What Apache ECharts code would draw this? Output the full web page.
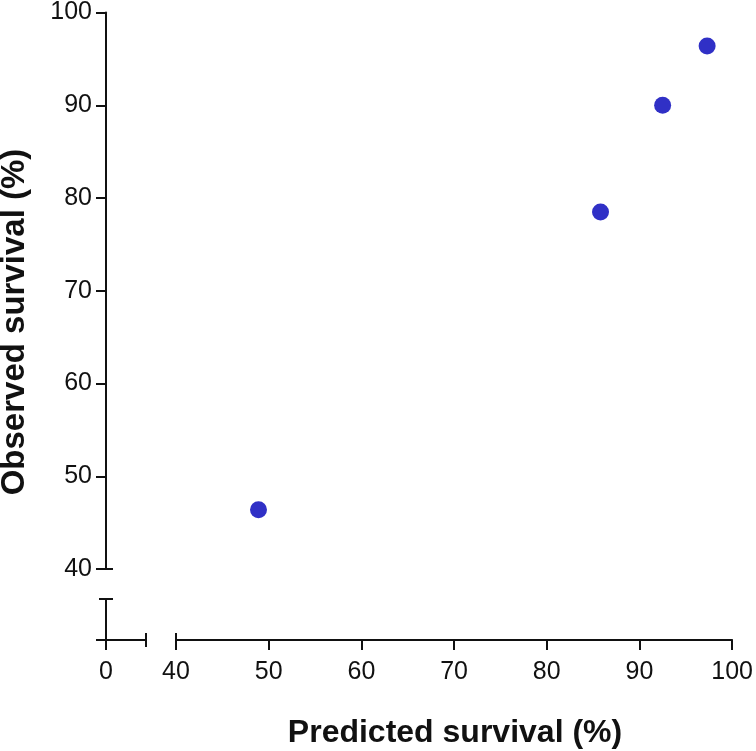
<!DOCTYPE html>
<html>
<head>
<meta charset="utf-8">
<script src="https://cdn.jsdelivr.net/npm/echarts@6/dist/echarts.min.js"></script>
<style>
  html, body { margin: 0; padding: 0; background: #fff; }
  #chart { width: 756px; height: 751px; }
</style>
</head>
<body>
<div id="chart"></div>
<script>
// ---- Data ----
const predicted = [48.9, 85.8, 92.5, 97.3];   // Predicted survival (%)
const observed  = [46.4, 78.5, 90.0, 96.4];   // Observed survival (%)
const xTicksMain = [40, 50, 60, 70, 80, 90, 100];
const yTicksMain = [40, 50, 60, 70, 80, 90, 100];
const xTicksLow = [0];
const yTicksLow = [0];
const xTitle = 'Predicted survival (%)';
const yTitle = 'Observed survival (%)';

// ---- Styling ----
const INK = '#111';
const FONT = '"Liberation Sans", Arial, sans-serif';
const TICKFONT = '"Liberation Sans", Arial, sans-serif';
const lineStyle = { color: INK, width: 2 };
const loXMax = 4.3, loYMax = 4.4;

const chart = echarts.init(document.getElementById('chart'), null, { renderer: 'canvas' });

const option = {
  animation: false,
  backgroundColor: '#fff',
  grid: [
    { left: 176, right: 22, top: 11, bottom: 182 },
    { left: 106, width: 40, top: 599, bottom: 111 }
  ],
  xAxis: [
    {
      gridIndex: 0, type: 'value', min: xTicksMain[0], max: xTicksMain[xTicksMain.length - 1], interval: 10,
      position: 'bottom', offset: 71,
      axisLine: { show: true, onZero: false, lineStyle },
      axisTick: { show: true, length: 10, lineStyle },
      axisLabel: { margin: 20, fontSize: 25, color: INK, fontFamily: TICKFONT },
      splitLine: { show: false }
    },
    {
      gridIndex: 1, type: 'value', min: 0, max: loXMax,
      position: 'bottom',
      axisLine: { show: true, onZero: false, lineStyle },
      axisTick: { show: true, length: 10, lineStyle, customValues: xTicksLow },
      axisLabel: { margin: 20, fontSize: 25, color: INK, fontFamily: TICKFONT, customValues: xTicksLow },
      splitLine: { show: false }
    }
  ],
  yAxis: [
    {
      gridIndex: 0, type: 'value', min: yTicksMain[0], max: yTicksMain[yTicksMain.length - 1], interval: 10,
      position: 'left', offset: 70,
      axisLine: { show: true, onZero: false, lineStyle },
      axisTick: { show: true, length: 10, lineStyle },
      axisLabel: { margin: 14, fontSize: 25, color: INK, fontFamily: TICKFONT },
      splitLine: { show: false }
    },
    {
      gridIndex: 1, type: 'value', min: 0, max: loYMax,
      position: 'left',
      axisLine: { show: true, onZero: false, lineStyle },
      axisTick: { show: true, length: 10, lineStyle, customValues: yTicksLow },
      axisLabel: { show: false },
      splitLine: { show: false }
    }
  ],
  series: [
    {
      type: 'scatter',
      xAxisIndex: 0, yAxisIndex: 0,
      data: predicted.map((x, i) => [x, observed[i]]),
      symbol: 'circle', symbolSize: 17,
      itemStyle: { color: '#3030c6', opacity: 1 }
    }
  ]
};
chart.setOption(option);

// Axis-break caps computed from the axes
const p = (gi, x, y) => chart.convertToPixel({ gridIndex: gi }, [x, y]);
const yLineX = p(1, 0, 0)[0];
const xLineY = p(1, 0, 0)[1];
const mainBottomY = p(0, 40, 40)[1];
const mainLeftX = p(0, 40, 40)[0];
const loTopY = p(1, 0, loYMax)[1];
const loRightX = p(1, loXMax, 0)[0];
const c = 7;
const seg = (x1, y1, x2, y2) => ({ type: 'line', shape: { x1, y1, x2, y2 }, style: { stroke: INK, lineWidth: 2 }, z: 10 });

chart.setOption({
  graphic: [
    seg(yLineX - c, mainBottomY, yLineX + c, mainBottomY),
    seg(yLineX - c, loTopY, yLineX + c, loTopY),
    seg(loRightX, xLineY - c, loRightX, xLineY + c),
    seg(mainLeftX, xLineY - c, mainLeftX, xLineY + c),
    {
      type: 'text', x: 455, y: 733,
      style: { text: xTitle, font: 'bold 32px ' + FONT, fill: INK, textAlign: 'center', textVerticalAlign: 'middle' }
    },
    {
      type: 'text', x: 15, y: 322, rotation: Math.PI / 2,
      style: { text: yTitle, font: 'bold 33px ' + FONT, fill: INK, textAlign: 'center', textVerticalAlign: 'middle' }
    }
  ]
});
</script>
</body>
</html>
